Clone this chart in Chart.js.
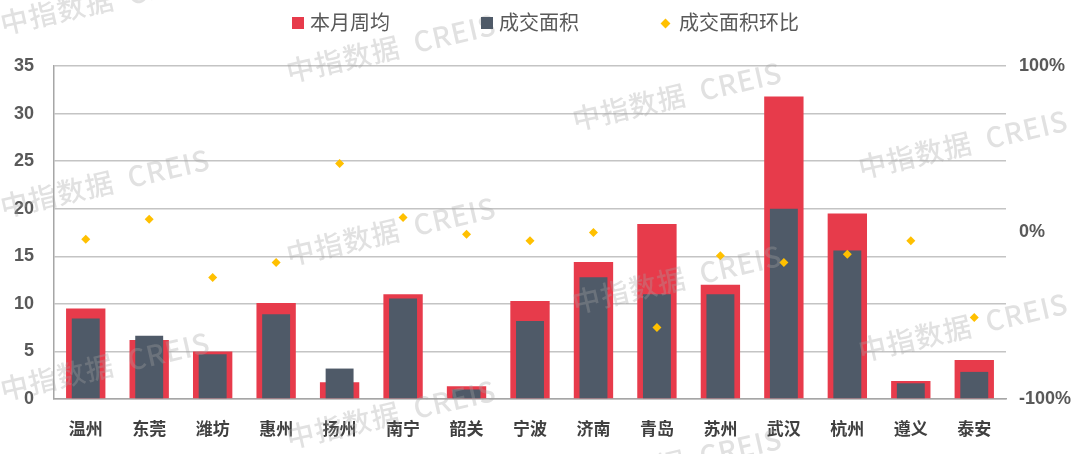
<!DOCTYPE html>
<html lang="zh">
<head>
<meta charset="utf-8">
<title>成交面积</title>
<script src="https://cdn.jsdelivr.net/npm/chart.js@4.4.1/dist/chart.umd.min.js"></script>
<style>
  html, body { margin: 0; padding: 0; background: #fff; }
  #wrap { position: relative; width: 1080px; height: 454px; }
  #legend {
    position: absolute; top: 11px; left: 292px; display: flex; align-items: center;
    font: 20px/24px 'Liberation Sans', 'Noto Sans CJK SC', sans-serif; color: #595959;
  }
  .item { display: flex; align-items: center; }
  .box { width: 12px; height: 12px; margin-right: 6px; }
  .diamond { width: 7px; height: 7px; transform: rotate(45deg); margin: 0 10px 0 3px; }
</style>
</head>
<body>
<div id="wrap">
  <canvas id="chart" width="1080" height="454"></canvas>
  <div id="legend"></div>
</div>
<script>
// data
const cities = ['温州', '东莞', '潍坊', '惠州', '扬州', '南宁', '韶关', '宁波', '济南', '青岛', '苏州', '武汉', '杭州', '遵义', '泰安'];
const weeklyAvg = [9.5, 6.2, 5.0, 10.1, 1.75, 11.0, 1.35, 10.3, 14.4, 18.4, 12.0, 31.8, 19.5, 1.9, 4.1];
const dealArea = [8.45, 6.65, 4.7, 8.9, 3.2, 10.55, 1.0, 8.2, 12.8, 11.0, 11.0, 20.0, 15.6, 1.65, 2.85];
const dealAreaMoM = [-4, 8, -27, -18, 41.5, 9, -1, -5, 0, -57, -14, -18, -13, -5, -51];
const areaTicks = [0, 5, 10, 15, 20, 25, 30, 35];
const momTicks = [-100, 0, 100];

const RED = '#E73B4B';
const SLATE = '#4F5A68';
const GOLD = '#FFC000';
const FONT = "'Liberation Sans', 'Noto Sans CJK SC', sans-serif";

const datasets = [
  {
    type: 'bar', label: '本月周均', data: weeklyAvg, backgroundColor: RED,
    barPercentage: 0.62, categoryPercentage: 1, grouped: false, order: 3, yAxisID: 'y'
  },
  {
    type: 'bar', label: '成交面积', data: dealArea, backgroundColor: SLATE,
    barPercentage: 0.44, categoryPercentage: 1, grouped: false, order: 2, yAxisID: 'y'
  },
  {
    type: 'line', label: '成交面积环比', data: dealAreaMoM, showLine: false,
    pointStyle: 'rectRot', pointRadius: 4.5, pointBackgroundColor: GOLD, pointBorderWidth: 0,
    borderColor: GOLD, order: 1, yAxisID: 'y2'
  }
];

// legend above the plot, spacing as in the reference
const legendGaps = [91, 80, 0];
const legendEl = document.getElementById('legend');
datasets.forEach((ds, i) => {
  const item = document.createElement('div');
  item.className = 'item';
  item.style.marginRight = legendGaps[i] + 'px';
  const mark = document.createElement('span');
  mark.className = ds.type === 'line' ? 'diamond' : 'box';
  mark.style.background = ds.type === 'line' ? GOLD : ds.backgroundColor;
  const text = document.createElement('span');
  text.textContent = ds.label;
  item.appendChild(mark);
  item.appendChild(text);
  legendEl.appendChild(item);
});

const watermark = {
  id: 'watermark',
  afterDraw(chart) {
    const ctx = chart.ctx;
    ctx.save();
    ctx.font = "500 28px 'Noto Sans CJK SC', sans-serif";
    ctx.letterSpacing = '1px';
    ctx.fillStyle = 'rgba(165,165,165,0.33)';
    ctx.textAlign = 'center';
    ctx.textBaseline = 'middle';
    for (let c = 0; c < 4; c++) {
      for (let r = -1; r < 4; r++) {
        ctx.save();
        ctx.translate(105 + 286 * c, 48 * c + 183 * r);
        ctx.rotate(-13 * Math.PI / 180);
        ctx.fillText('中指数据  CREIS', 0, 0);
        ctx.restore();
      }
    }
    ctx.restore();
  }
};

new Chart(document.getElementById('chart').getContext('2d'), {
  type: 'bar',
  data: { labels: cities, datasets: datasets },
  plugins: [watermark],
  options: {
    responsive: false,
    animation: false,
    layout: { padding: { left: 0, right: 0, top: 66, bottom: 0 } },
    plugins: { legend: { display: false }, tooltip: { enabled: false } },
    scales: {
      x: {
        grid: { display: false },
        border: { display: true, color: '#A6A6A6', width: 1.5 },
        ticks: { color: '#404040', padding: 13, font: { family: FONT, size: 17, weight: 'bold' } },
        afterFit: s => { s.height = 55; }
      },
      y: {
        position: 'left',
        min: areaTicks[0], max: areaTicks[areaTicks.length - 1],
        ticks: { stepSize: areaTicks[1] - areaTicks[0], color: '#595959', padding: 20, font: { family: FONT, size: 18, weight: 'bold' } },
        grid: { color: '#C4C4C4', lineWidth: 1.5, drawTicks: false },
        border: { display: true, color: '#A6A6A6', width: 1.5 },
        afterFit: s => { s.width = 54; }
      },
      y2: {
        position: 'right',
        min: momTicks[0], max: momTicks[momTicks.length - 1],
        ticks: {
          stepSize: momTicks[1] - momTicks[0], color: '#595959', padding: 13,
          font: { family: FONT, size: 18, weight: 'bold' },
          callback: v => v + '%'
        },
        grid: { display: false, drawTicks: false },
        border: { display: false },
        afterFit: s => { s.width = 74; }
      }
    }
  }
});
</script>
</body>
</html>
